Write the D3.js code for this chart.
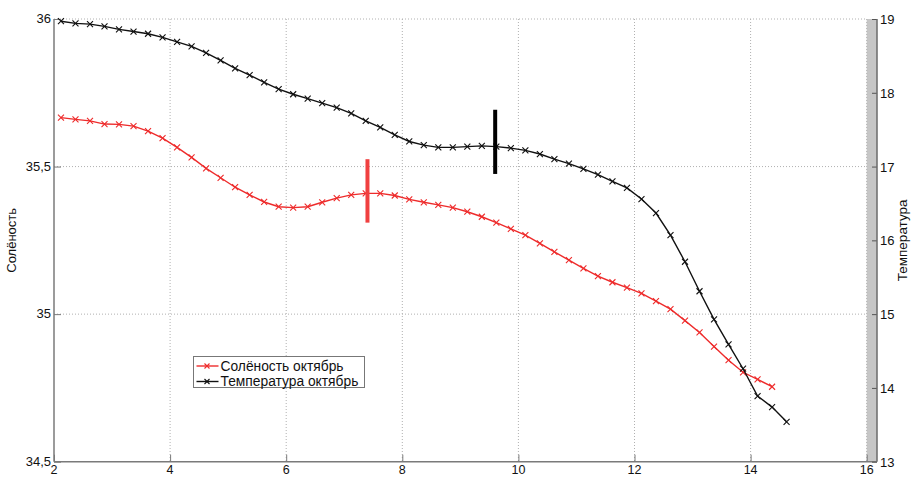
<!DOCTYPE html>
<html>
<head>
<meta charset="utf-8">
<script src="https://cdn.jsdelivr.net/npm/d3@7"></script>
<style>
  body { margin: 0; background: #fff; }
  svg text { font-family: "Liberation Sans", Arial, sans-serif; fill: #111; }
</style>
</head>
<body>
<svg id="chart" width="911" height="478"></svg>
<script>
// depth-like x values shared by both series
var depth = [2.12, 2.37, 2.62, 2.87, 3.12, 3.37, 3.62, 3.87, 4.12, 4.37,
  4.62, 4.87, 5.12, 5.37, 5.62, 5.87, 6.12, 6.37, 6.62, 6.87,
  7.12, 7.37, 7.62, 7.87, 8.12, 8.37, 8.62, 8.87, 9.12, 9.37,
  9.62, 9.87, 10.12, 10.37, 10.62, 10.87, 11.12, 11.37, 11.62, 11.87,
  12.12, 12.37, 12.62, 12.87, 13.12, 13.37, 13.62, 13.87, 14.12, 14.37, 14.62];

var salinity = [35.666, 35.660, 35.655, 35.644, 35.643, 35.637, 35.620, 35.596, 35.565, 35.531,
  35.494, 35.462, 35.430, 35.404, 35.380, 35.364, 35.361, 35.364, 35.379, 35.393,
  35.404, 35.409, 35.409, 35.402, 35.389, 35.379, 35.370, 35.361, 35.347, 35.330,
  35.310, 35.289, 35.268, 35.240, 35.211, 35.183, 35.155, 35.129, 35.108, 35.090,
  35.070, 35.044, 35.017, 34.978, 34.938, 34.890, 34.844, 34.803, 34.779, 34.754];

var temperature = [18.97, 18.94, 18.93, 18.90, 18.86, 18.83, 18.80, 18.75, 18.69, 18.63,
  18.54, 18.44, 18.33, 18.24, 18.14, 18.05, 17.98, 17.92, 17.86, 17.80,
  17.72, 17.62, 17.53, 17.43, 17.34, 17.29, 17.26, 17.26, 17.27, 17.28,
  17.27, 17.25, 17.22, 17.17, 17.10, 17.04, 16.97, 16.89, 16.80, 16.71,
  16.56, 16.37, 16.07, 15.71, 15.31, 14.93, 14.59, 14.26, 13.89, 13.74, 13.54];

// thick vertical markers: [x, from, to]
var salinityMark = [7.40, 35.31, 35.525];
var temperatureMark = [9.60, 16.90, 17.77];

var xTicks = [2, 4, 6, 8, 10, 12, 14, 16];
var yLeftTicks = [34.5, 35, 35.5, 36];
var yRightTicks = [13, 14, 15, 16, 17, 18, 19];
var seriesNames = ["Солёность октябрь", "Температура октябрь"];

function drawChart() {
  var left = 54, right = 866.7, axisRight = 877, top = 19, bottom = 461.7;
  var red = "#ee2b2b", black = "#111", axisCol = "#7a7a7a";

  var svg = d3.select("#chart");
  var x = d3.scaleLinear().domain([2, 16]).range([left, right]),
    yL = d3.scaleLinear().domain([34.5, 36]).range([bottom, top]),
    yR = d3.scaleLinear().domain([13, 19]).range([bottom, top]);

  var ru = d3.formatLocale({ decimal: ",", thousands: " ", grouping: [3], currency: ["", ""] });
  var fmt = ru.format("~g");

  // grey strip between end of main axes and the right axis
  svg.append("rect")
    .attr("x", x(16)).attr("y", top)
    .attr("width", axisRight - x(16)).attr("height", bottom - top)
    .attr("fill", "#c6c6c6");

  // grid
  var grid = svg.append("g").attr("stroke", "#b0b0b0").attr("stroke-dasharray", "1,2").attr("stroke-width", 1);
  grid.selectAll("line.v").data(xTicks.slice(1)).enter().append("line")
    .attr("x1", (d) => x(d)).attr("x2", (d) => x(d))
    .attr("y1", top).attr("y2", bottom);
  grid.selectAll("line.h").data(yLeftTicks.slice(1)).enter().append("line")
    .attr("x1", left).attr("x2", right)
    .attr("y1", (d) => yL(d)).attr("y2", (d) => yL(d));

  // axes (ticks inward)
  var axisX = d3.axisTop(x).tickValues(xTicks).tickSize(7).tickFormat("");
  var gx = svg.append("g").attr("transform", "translate(0," + bottom + ")").call(axisX);
  gx.select(".domain").remove();
  gx.selectAll("line").attr("stroke", axisCol);
  svg.append("line").attr("x1", left).attr("x2", axisRight).attr("y1", bottom).attr("y2", bottom)
    .attr("stroke", axisCol).attr("stroke-width", 1.5);
  svg.append("g").selectAll("text").data(xTicks).enter().append("text")
    .attr("x", (d) => x(d)).attr("y", bottom + 12.5)
    .attr("text-anchor", "middle").attr("font-size", 12.5)
    .text((d) => d);

  var axisY = d3.axisRight(yL).tickValues(yLeftTicks).tickSize(7).tickFormat("");
  var gy = svg.append("g").attr("transform", "translate(" + left + ",0)").call(axisY);
  gy.select(".domain").remove();
  gy.selectAll("line").attr("stroke", axisCol);
  svg.append("line").attr("x1", left).attr("x2", left).attr("y1", top).attr("y2", bottom)
    .attr("stroke", axisCol).attr("stroke-width", 1.5);
  svg.append("g").selectAll("text").data(yLeftTicks).enter().append("text")
    .attr("x", left - 3).attr("y", (d) => yL(d) + 4)
    .attr("text-anchor", "end").attr("font-size", 13)
    .text((d) => fmt(d));

  var axisYR = d3.axisLeft(yR).tickValues(yRightTicks).tickSize(5).tickFormat("");
  var gyr = svg.append("g").attr("transform", "translate(" + axisRight + ",0)").call(axisYR);
  gyr.select(".domain").remove();
  gyr.selectAll("line").attr("stroke", "#555");
  svg.append("line").attr("x1", axisRight).attr("x2", axisRight).attr("y1", top).attr("y2", bottom)
    .attr("stroke", "#6a6a6a").attr("stroke-width", 1.5);
  svg.append("g").selectAll("text").data(yRightTicks).enter().append("text")
    .attr("x", axisRight + 3).attr("y", (d) => yR(d) + 5)
    .attr("text-anchor", "start").attr("font-size", 13)
    .text((d) => d);

  // axis titles
  svg.append("text").attr("transform", "translate(16," + (top + bottom) / 2 + ") rotate(-90)")
    .attr("text-anchor", "middle").attr("font-size", 13).text("Солёность");
  svg.append("text").attr("transform", "translate(907," + (top + bottom) / 2 + ") rotate(-90)")
    .attr("text-anchor", "middle").attr("font-size", 13.5).text("Температура");

  // series
  function drawSeries(values, yScale, color, width) {
    var pts = values.map((v, i) => [x(depth[i]), yScale(v)]);
    var g = svg.append("g");
    g.append("path").attr("d", d3.line()(pts))
      .attr("fill", "none").attr("stroke", color).attr("stroke-width", width);
    g.selectAll("path.m").data(pts).enter().append("path")
      .attr("d", (p) => "M" + (p[0] - 3) + "," + (p[1] - 3) + "L" + (p[0] + 3) + "," + (p[1] + 3) +
        "M" + (p[0] - 3) + "," + (p[1] + 3) + "L" + (p[0] + 3) + "," + (p[1] - 3))
      .attr("stroke", color).attr("stroke-width", 1.1);
  }
  drawSeries(salinity, yL, red, 1.4);
  drawSeries(temperature, yR, black, 1.4);

  // thick vertical markers
  svg.append("line").attr("x1", x(salinityMark[0])).attr("x2", x(salinityMark[0]))
    .attr("y1", yL(salinityMark[1])).attr("y2", yL(salinityMark[2]))
    .attr("stroke", "#f04040").attr("stroke-width", 4);
  svg.append("line").attr("x1", x(temperatureMark[0])).attr("x2", x(temperatureMark[0]))
    .attr("y1", yR(temperatureMark[1])).attr("y2", yR(temperatureMark[2]))
    .attr("stroke", "#000").attr("stroke-width", 4);

  // legend
  var lg = svg.append("g").attr("transform", "translate(193.5,356.5)");
  lg.append("rect").attr("width", 171).attr("height", 31)
    .attr("fill", "#fff").attr("stroke", "#777").attr("stroke-width", 1);
  [red, black].forEach((c, i) => {
    var yy = 9.5 + i * 15.5;
    lg.append("line").attr("x1", 3).attr("x2", 25).attr("y1", yy).attr("y2", yy)
      .attr("stroke", c).attr("stroke-width", 1.4);
    lg.append("path").attr("d", "M11,"+(yy-2.5)+"L16,"+(yy+2.5)+"M11,"+(yy+2.5)+"L16,"+(yy-2.5))
      .attr("stroke", c).attr("stroke-width", 1.1);
    lg.append("text").attr("x", 27).attr("y", yy + 4.5).attr("font-size", 13.8).text(seriesNames[i]);
  });
}

drawChart();
</script>
</body>
</html>
